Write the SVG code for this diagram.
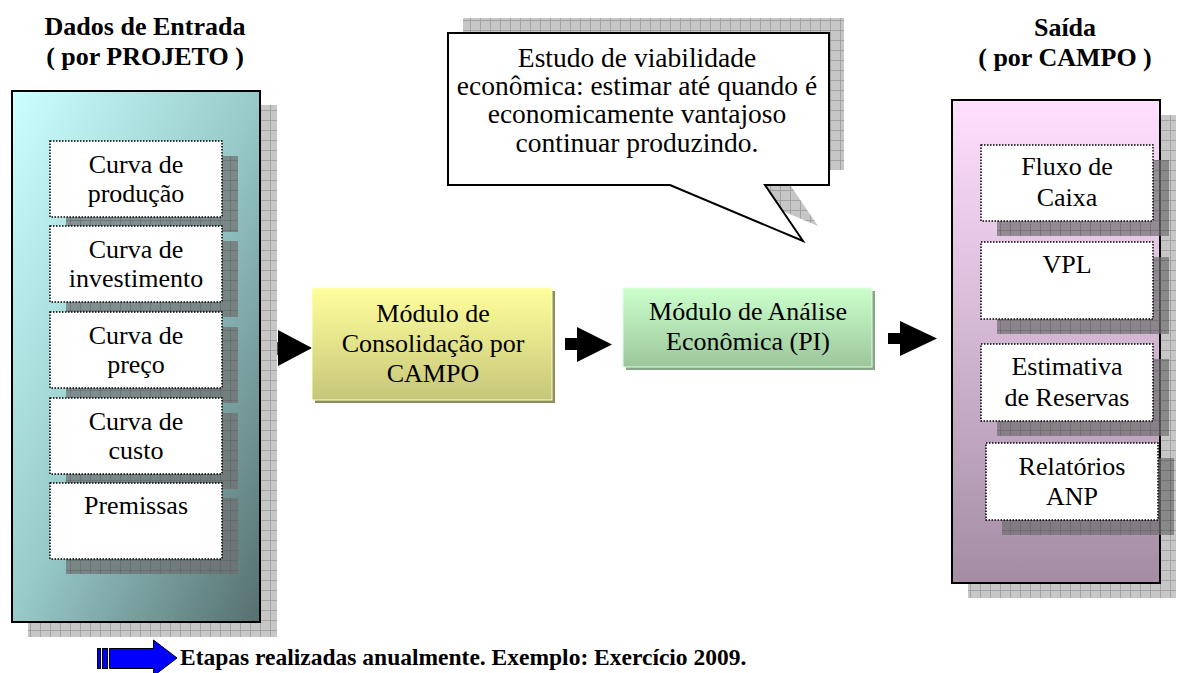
<svg xmlns="http://www.w3.org/2000/svg" width="1182" height="673" viewBox="0 0 1182 673">
<defs>
<pattern id="gridL" width="10" height="10" patternUnits="userSpaceOnUse">
<rect width="10" height="10" fill="#c6c6c6"/>
<path d="M0 .5H10M.5 0V10" stroke="#a2a2a2" stroke-width="1"/>
</pattern>
<pattern id="gridD" width="10" height="10" patternUnits="userSpaceOnUse">
<rect width="10" height="10" fill="#707070" fill-opacity="0.7"/>
<path d="M0 .5H10M.5 0V10" stroke="#5a5a5a" stroke-opacity="0.45" stroke-width="1"/>
</pattern>
<linearGradient id="gTeal" x1="0" y1="0" x2="1" y2="1">
<stop offset="0" stop-color="#ccffff"/>
<stop offset="0.5" stop-color="#98caca"/>
<stop offset="1" stop-color="#566f6f"/>
</linearGradient>
<linearGradient id="gPink" x1="0" y1="0" x2="0" y2="1">
<stop offset="0" stop-color="#ffe0ff"/>
<stop offset="1" stop-color="#a48ca4"/>
</linearGradient>
<linearGradient id="gYellow" x1="0" y1="0" x2="0" y2="1">
<stop offset="0" stop-color="#ffff9c"/>
<stop offset="1" stop-color="#c6c67a"/>
</linearGradient>
<linearGradient id="gGreen" x1="0" y1="0" x2="0" y2="1">
<stop offset="0" stop-color="#ccffcc"/>
<stop offset="1" stop-color="#9cc69c"/>
</linearGradient>
<style>
.t{font-size:26px;text-anchor:middle;}
.c{font-size:27.5px;text-anchor:middle;}
.h{font-size:26px;font-weight:bold;text-anchor:middle;}
.b{font-size:23.5px;font-weight:bold;}
.panel{stroke:#000;stroke-width:2;}
.inner{fill:#fff;stroke:#000;stroke-width:1.5;stroke-dasharray:1.5 1.5;}
.shL{fill:url(#gridL);}
.shD{fill:url(#gridD);}
.arrow{fill:#000;}
</style>
</defs>
<rect width="1182" height="673" fill="#fff"/>
<g font-family="Liberation Serif, Tinos, Times New Roman, DejaVu Serif, serif" fill="#000">

<g id="title-entrada">
<text class="h" x="145" y="35">Dados de Entrada</text>
<text class="h" x="145" y="65">( por PROJETO )</text>
</g>
<g id="title-saida">
<text class="h" x="1065" y="36">Saída</text>
<text class="h" x="1065" y="66">( por CAMPO )</text>
</g>

<g id="callout">
<path class="shL" d="M463 18H844V170H780L818 226L685 170H463Z"/>
<path d="M448 33H829V185H765L803 241L670 185H448Z" fill="#fff" stroke="#000" stroke-width="2" stroke-linejoin="miter"/>
<text class="c" x="637" y="67">Estudo de viabilidade</text>
<text class="c" x="637" y="95">econômica: estimar até quando é</text>
<text class="c" x="637" y="123">economicamente vantajoso</text>
<text class="c" x="637" y="152">continuar produzindo.</text>
</g>

<g id="connectors">
<rect x="267" y="342" width="12" height="13" fill="#555"/>
<polygon class="arrow" points="278,330 312,348 278,366"/>
<rect x="565" y="338" width="13" height="12" class="arrow"/>
<polygon class="arrow" points="577,327 612,344.5 577,362"/>
<rect x="888" y="333" width="13" height="11" class="arrow"/>
<polygon class="arrow" points="900,321 937,338.5 900,356"/>
</g>

<g id="entrada">
<rect class="shL" x="28" y="105" width="249" height="532"/>
<rect class="panel" x="12" y="91" width="248" height="531" fill="url(#gTeal)"/>
<g id="curva-producao">
<rect class="shD" x="66" y="156" width="172" height="76"/>
<rect class="inner" x="50" y="141" width="172" height="76"/>
<text class="t" x="136" y="173">Curva de</text>
<text class="t" x="136" y="202">produção</text>
</g>
<g id="curva-investimento">
<rect class="shD" x="66" y="241" width="172" height="76"/>
<rect class="inner" x="50" y="226" width="172" height="76"/>
<text class="t" x="136" y="258">Curva de</text>
<text class="t" x="136" y="287">investimento</text>
</g>
<g id="curva-preco">
<rect class="shD" x="66" y="327" width="172" height="76"/>
<rect class="inner" x="50" y="312" width="172" height="76"/>
<text class="t" x="136" y="344">Curva de</text>
<text class="t" x="136" y="373">preço</text>
</g>
<g id="curva-custo">
<rect class="shD" x="66" y="413" width="172" height="76"/>
<rect class="inner" x="50" y="398" width="172" height="76"/>
<text class="t" x="136" y="430">Curva de</text>
<text class="t" x="136" y="459">custo</text>
</g>
<g id="premissas">
<rect class="shD" x="66" y="498" width="172" height="76"/>
<rect class="inner" x="50" y="483" width="172" height="76"/>
<text class="t" x="136" y="514">Premissas</text>
</g>
</g>

<g id="consolidacao">
<rect x="315" y="291" width="240" height="112" fill="#8e8e5c"/>
<rect x="312" y="288" width="240" height="112" fill="url(#gYellow)" stroke="#ffffc8" stroke-width="1"/>
<text class="t" x="433" y="322">Módulo de</text>
<text class="t" x="433" y="352">Consolidação por</text>
<text class="t" x="433" y="382">CAMPO</text>
</g>

<g id="analise">
<rect x="626" y="291" width="249" height="79" fill="#86a686"/>
<rect x="623" y="288" width="249" height="79" fill="url(#gGreen)" stroke="#e0ffe0" stroke-width="1"/>
<text class="t" x="748" y="320">Módulo de Análise</text>
<text class="t" x="748" y="350">Econômica (PI)</text>
</g>

<g id="saida">
<rect class="shL" x="968" y="115" width="208" height="483"/>
<rect class="panel" x="952" y="100" width="208" height="483" fill="url(#gPink)"/>
<g id="fluxo-caixa">
<rect class="shD" x="997" y="160" width="172" height="76"/>
<rect class="inner" x="981" y="145" width="172" height="76"/>
<text class="t" x="1067" y="175">Fluxo de</text>
<text class="t" x="1067" y="206">Caixa</text>
</g>
<g id="vpl">
<rect class="shD" x="997" y="257" width="172" height="77"/>
<rect class="inner" x="981" y="242" width="172" height="77"/>
<text class="t" x="1067" y="273">VPL</text>
</g>
<g id="estimativa-reservas">
<rect class="shD" x="997" y="359" width="172" height="77"/>
<rect class="inner" x="981" y="344" width="172" height="77"/>
<text class="t" x="1067" y="375">Estimativa</text>
<text class="t" x="1067" y="406">de Reservas</text>
</g>
<g id="relatorios-anp">
<rect class="shD" x="1002" y="458" width="172" height="77"/>
<rect class="inner" x="986" y="443" width="172" height="77"/>
<text class="t" x="1072" y="475">Relatórios</text>
<text class="t" x="1072" y="505">ANP</text>
</g>
</g>

<g id="legenda">
<rect x="97.5" y="648.5" width="3" height="20" fill="#0000ff" stroke="#000" stroke-width="1"/>
<rect x="102.5" y="648.5" width="5" height="20" fill="#0000ff" stroke="#000" stroke-width="1"/>
<path d="M109.5 648.5H153.5V640L177 658L153.5 676V668.5H109.5Z" fill="#0000ff" stroke="#000" stroke-width="1"/>
<text class="b" x="180" y="665">Etapas realizadas anualmente. Exemplo: Exercício 2009.</text>
</g>
</g>
</svg>
